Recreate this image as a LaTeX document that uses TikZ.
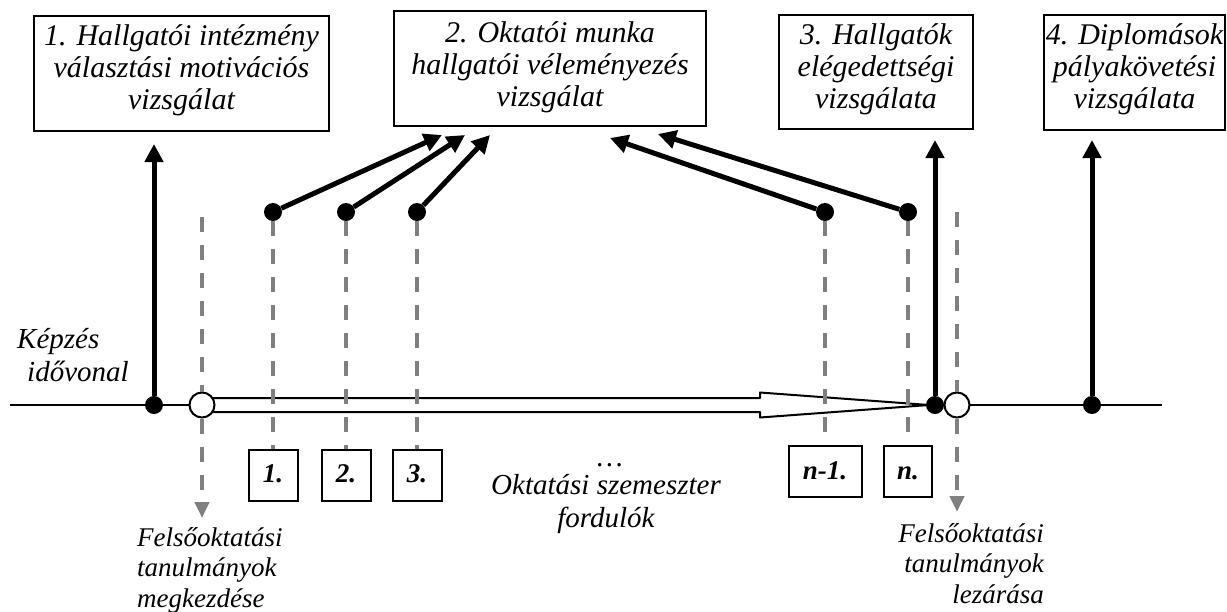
\documentclass[tikz,border=0pt]{standalone}
\usepackage{fontspec}
\setmainfont{Liberation Serif}
\usetikzlibrary{arrows.meta}
\definecolor{dashgray}{RGB}{128,128,128}
\newcommand{\tsr}[1]{\rule{0pt}{#1pt}}
\newcommand{\bsr}[1]{\rule[-#1pt]{0pt}{0pt}}
\begin{document}
\begin{tikzpicture}[x=1pt,y=-1pt,
  box/.style={draw,line width=2pt,inner xsep=0pt,inner ysep=0pt,align=center,anchor=north west,
    font=\fontsize{30}{32}\selectfont\itshape},
  numbox/.style={draw,line width=2pt,inner sep=0pt,anchor=north,minimum width=49pt,
    font=\fontsize{27}{30}\selectfont\bfseries\itshape},
  dot/.style={circle,fill=black,inner sep=0pt,minimum size=18pt},
  ring/.style={circle,draw,fill=white,line width=2pt,inner sep=0pt,minimum size=25pt},
  thickarrow/.style={line width=5pt,-{Triangle[length=18pt,width=18pt]}},
  semline/.style={dashgray,line width=4pt,dash pattern=on 15pt off 13pt},
  semarrow/.style={semline,-{Triangle[length=16pt,width=14pt]}},
  lab/.style={inner sep=0pt,font=\fontsize{27}{30.5}\selectfont\itshape},
  biglab/.style={inner sep=0pt,font=\fontsize{29}{33}\selectfont\itshape},
]
\useasboundingbox (0,0) rectangle (1227,611);
\fill[white] (0,0) rectangle (1227,611);

% timeline
\coordinate (tl0) at (10,405);
\coordinate (tl1) at (1162,405);
\draw[line width=2pt] (tl0) -- (tl1);

% hollow arrow (semesters)
\draw[line width=2pt,fill=white,line join=round]
  (202,398) -- (760,398) -- (760,392.5) -- (929,405) -- (760,417.5) -- (760,412) -- (202,412) -- cycle;

% boxes
\node[box,minimum width=295pt] (b1) at (33,15) {\tsr{29}1. Hallgatói intézmény\\választási motivációs\\vizsgálat\bsr{22}};
\node[box,minimum width=312pt] (b2) at (393,10) {\tsr{31}2. Oktatói munka\\hallgatói véleményezés\\vizsgálat\bsr{20}};
\node[box,minimum width=194pt] (b3) at (778,14) {\tsr{29}3. Hallgatók\\elégedettségi\\vizsgálata\bsr{21}};
\node[box,minimum width=181pt] (b4) at (1043,14) {\tsr{29}4. Diplomások\\pályakövetési\\vizsgálata\bsr{22}};

% timeline points
\node[dot] (p1) at (154,405) {};
\node[dot] (p3) at (935,405) {};
\node[dot] (p4) at (1092,405) {};
\node[ring] (c1) at (202,405) {};
\node[ring] (c2) at (957,405) {};

% semester dots
\node[dot] (d1) at (273,212) {};
\node[dot] (d2) at (346,212) {};
\node[dot] (d3) at (417,212) {};
\node[dot] (dn1) at (825,212) {};
\node[dot] (dn) at (908,212) {};

% semester boxes
\node[numbox] (s1) at (273,449) {\tsr{32}1.\bsr{19}};
\node[numbox] (s2) at (346,449) {\tsr{32}2.\bsr{19}};
\node[numbox] (s3) at (417,449) {\tsr{32}3.\bsr{19}};
\node[numbox,minimum width=73pt] (sn1) at (825,445) {\tsr{33}n-1.\bsr{18}};
\node[numbox,minimum width=48pt] (sn) at (908,445) {\tsr{33}n.\bsr{18}};

% dashed semester lines
\draw[semline] (d1) -- (d1 |- s1.north);
\draw[semline] (d2) -- (d2 |- s2.north);
\draw[semline] (d3) -- (d3 |- s3.north);
\draw[semline] (dn1) -- (dn1 |- sn1.north);
\draw[semline] (dn) -- (dn |- sn.north);

% start / end dashed arrows
\coordinate (ct1) at (202,217);
\coordinate (cb1) at (202,518);
\coordinate (ct2) at (957,212);
\coordinate (cb2) at (957,512);
\draw[semline] (ct1) -- (c1);
\draw[semarrow] (c1) -- (cb1);
\draw[semline] (ct2) -- (c2);
\draw[semarrow] (c2) -- (cb2);

% vertical survey arrows
\draw[thickarrow,shorten >=12pt] (p1) -- (p1 |- b1.south);
\draw[thickarrow,shorten >=10pt] (p3) -- (p3 |- b3.south);
\draw[thickarrow,shorten >=9pt] (p4) -- (p4 |- b4.south);

% diagonal arrows to box 2
\coordinate (t1) at (442,135);
\coordinate (t2) at (465,135);
\coordinate (t3) at (490,135);
\coordinate (t4) at (610,138);
\coordinate (t5) at (658,134);
\draw[thickarrow] (d1) -- (t1);
\draw[thickarrow] (d2) -- (t2);
\draw[thickarrow] (d3) -- (t3);
\draw[thickarrow] (dn1) -- (t4);
\draw[thickarrow] (dn) -- (t5);

% labels
\node[biglab,anchor=base west] (kep1) at (17,348) {Képzés};
\node[biglab,anchor=base west] (kep2) at (27,381) {idővonal};
\node[biglab,anchor=base] (ell) at (610,466) {…};
\node[biglab,anchor=north,align=center] (sem) at (606,474) {\tsr{20}Oktatási szemeszter\\fordulók};
\node[lab,anchor=north west,align=left] (start) at (137,522) {\tsr{24}Felsőoktatási\\tanulmányok\\megkezdése};
\node[lab,anchor=north east,align=right] (end) at (1044,518) {\tsr{24}Felsőoktatási\\tanulmányok\\lezárása};
\end{tikzpicture}
\end{document}
